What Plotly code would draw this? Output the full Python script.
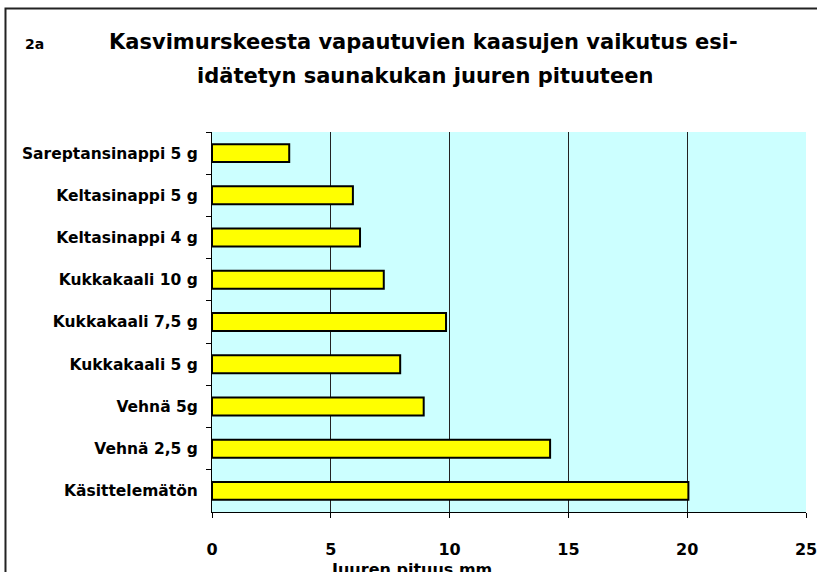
import plotly.graph_objects as go

categories = ["Sareptansinappi 5 g", "Keltasinappi 5 g", "Keltasinappi 4 g",
              "Kukkakaali 10 g", "Kukkakaali 7,5 g", "Kukkakaali 5 g",
              "Vehnä 5g", "Vehnä 2,5 g", "Käsittelemätön"]
values = [3.25, 5.93, 6.23, 7.23, 9.85, 7.92, 8.91, 14.23, 20.05]
x_ticks = [0, 5, 10, 15, 20, 25]

title_line1 = "Kasvimurskeesta vapautuvien kaasujen vaikutus esi-"
title_line2 = "idätetyn saunakukan juuren pituuteen"
x_title = "Juuren pituus mm"
tag = "2a"

FONT = "DejaVu Sans"
W, H = 817, 572
L, R, T, B = 212.3, 805.7, 131.7, 512.3

def px(x):
    return (x - L) / (R - L)

def py(y):
    return (B - y) / (B - T)

fig = go.Figure(go.Bar(
    y=categories, x=values, orientation="h",
    marker=dict(color="#FFFF00", line=dict(color="black", width=2)),
    hoverinfo="x+y",
))

fig.update_layout(
    width=W, height=H,
    margin=dict(l=L, r=W - R, t=T, b=H - B, pad=0, autoexpand=False),
    paper_bgcolor="white",
    plot_bgcolor="#CCFFFF",
    bargap=0.575,
    showlegend=False,
    font=dict(family=FONT, color="black"),
)

fig.update_xaxes(
    range=[0, 25], tickvals=x_ticks, ticktext=[str(t) for t in x_ticks],
    showgrid=True, gridcolor="#222222", gridwidth=1,
    showline=True, linecolor="black", linewidth=1,
    ticks="outside", ticklen=5, tickcolor="black",
    tickfont=dict(family=FONT, size=16, color="black", weight="bold"),
    ticklabelstandoff=18, ticklabeloverflow="allow",
    zeroline=False, fixedrange=True, automargin=False,
)
fig.update_yaxes(
    autorange="reversed", type="category",
    showgrid=False,
    showline=True, linecolor="black", linewidth=1,
    ticks="outside", ticklen=5, tickcolor="black", tickson="boundaries",
    tickfont=dict(family=FONT, size=15.5, color="black", weight="bold"),
    ticklabelstandoff=10,
    fixedrange=True, automargin=False,
)

annotations = [
    dict(text="<b>%s</b>" % title_line1, x=px(424), y=py(42), xref="paper", yref="paper",
         xanchor="center", yanchor="middle", showarrow=False,
         font=dict(family=FONT, size=21, color="black")),
    dict(text="<b>%s</b>" % title_line2, x=px(425.5), y=py(76), xref="paper", yref="paper",
         xanchor="center", yanchor="middle", showarrow=False,
         font=dict(family=FONT, size=21, color="black")),
    dict(text="<b>%s</b>" % tag, x=px(23), y=py(44), xref="paper", yref="paper",
         xanchor="left", yanchor="middle", showarrow=False,
         font=dict(family=FONT, size=14, color="black")),
    dict(text="<b>%s</b>" % x_title, x=px(412), y=py(570), xref="paper", yref="paper",
         xanchor="center", yanchor="middle", showarrow=False,
         font=dict(family=FONT, size=16, color="black")),
]
fig.update_layout(annotations=annotations)

fig.add_shape(type="rect", xref="paper", yref="paper",
              x0=px(6), x1=px(830), y0=py(600), y1=py(8),
              line=dict(color="#222222", width=2), fillcolor="rgba(0,0,0,0)",
              layer="above")

fig.write_html("out.html", config={"displayModeBar": False},
               post_script="document.body.style.margin='0px';document.body.style.overflow='hidden';")
